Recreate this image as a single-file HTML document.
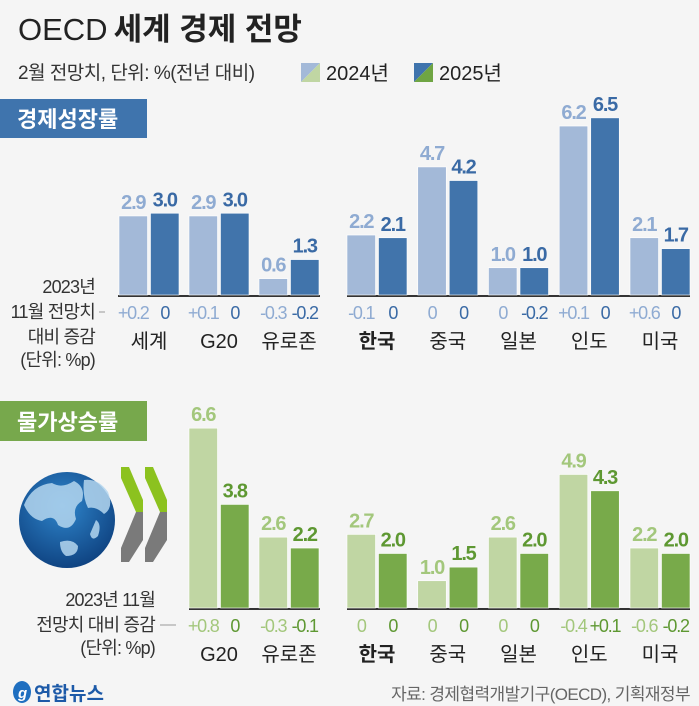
<!DOCTYPE html>
<html><head><meta charset="utf-8"><style>
html,body{margin:0;padding:0;background:#f5f5f5;}
svg{display:block;font-family:"Liberation Sans","Noto Sans CJK KR",sans-serif;}
</style></head><body>
<svg id="c" width="699" height="706" viewBox="0 0 699 706" xmlns="http://www.w3.org/2000/svg">
<rect width="699" height="706" fill="#f5f5f5"/>
<text x="18" y="40" font-size="31" fill="#222"><tspan font-weight="300" letter-spacing="0">OECD</tspan><tspan font-weight="bold" dx="6">세계 경제 전망</tspan></text>
<text x="18" y="79" font-size="19" fill="#333" letter-spacing="-0.5">2월 전망치, 단위: %(전년 대비)</text>
<g>
<polygon points="301,63 320,63 301,82" fill="#a3b9d8"/><polygon points="320,63 320,82 301,82" fill="#c0d6a3"/>
<text x="326" y="80" font-size="20" fill="#222">2024년</text></g>
<g>
<polygon points="414,63 433,63 414,82" fill="#3f74ad"/><polygon points="433,63 433,82 414,82" fill="#6fa543"/>
<text x="439" y="80" font-size="20" fill="#222">2025년</text></g>
<rect x="0" y="99" width="147" height="39" fill="#3f74ad"/>
<text x="17" y="127" font-size="22" font-weight="bold" fill="#fff">경제성장률</text>
<rect x="0" y="401" width="147" height="40" fill="#77a84c"/>
<text x="17" y="430" font-size="22" font-weight="bold" fill="#fff">물가상승률</text>
<g font-size="18" fill="#333" text-anchor="end" letter-spacing="-0.8">
<text x="95" y="293">2023년</text><text x="95" y="318">11월 전망치</text>
<text x="95" y="343">대비 증감</text><text x="95" y="366">(단위: %p)</text></g>
<line x1="99" y1="312" x2="105" y2="312" stroke="#999" stroke-width="1"/>
<g font-size="18" fill="#333" text-anchor="end" letter-spacing="-0.8">
<text x="155" y="606">2023년 11월</text><text x="155" y="631">전망치 대비 증감</text>
<text x="155" y="654">(단위: %p)</text></g>
<line x1="160" y1="625" x2="176" y2="625" stroke="#999" stroke-width="1"/>
<defs><radialGradient id="gl" cx="0.45" cy="0.35" r="0.7"><stop offset="0" stop-color="#2f86cc"/><stop offset="1" stop-color="#0d3f7d"/></radialGradient></defs>
<g>
<circle cx="67" cy="520" r="48" fill="url(#gl)"/>
<path d="M24,505 q8,-20 28,-22 q10,6 22,-2 q12,6 8,20 q-10,6 -6,18 q-6,14 -18,6 q-4,-12 -16,-4 q-12,-2 -18,-16z" fill="#b4d6ee" opacity="0.85"/>
<path d="M84,480 q14,-2 24,12 q6,16 -4,22 q-8,-8 -16,-6 q-6,-12 -4,-28z" fill="#b4d6ee" opacity="0.85"/>
<path d="M60,542 q12,-4 18,4 q0,10 -12,10 q-6,-4 -6,-14z" fill="#b4d6ee" opacity="0.85"/>
<path d="M96,520 q6,4 2,16 q-6,6 -8,-2z" fill="#b4d6ee" opacity="0.85"/>
</g>
<g>
<polygon points="121,467 129,467 143,500 143,512 136,512 121,478" fill="#8cc21f"/>
<polygon points="136,512 143,512 143,540 129,562 121,562 121,548" fill="#7a7a7a"/>
<polygon points="145,467 153,467 167,500 167,512 160,512 145,478" fill="#8cc21f"/>
<polygon points="160,512 167,512 167,540 153,562 145,562 145,548" fill="#7a7a7a"/>
</g>
<g>
<ellipse cx="22" cy="692" rx="9" ry="11" fill="#1f6fc0"/>
<text x="18" y="698" font-size="15" font-style="italic" font-weight="bold" fill="#fff">g</text>
<text x="34" y="700" font-size="19" font-weight="bold" fill="#1d5aa8">연합뉴스</text></g>
<text x="690" y="700" font-size="17" fill="#666" text-anchor="end" letter-spacing="-0.6">자료: 경제협력개발기구(OECD), 기획재정부</text>
<g id="growth"></g>
<g id="infl"></g>
</svg>
<script>
const growthCountries = ["세계","G20","유로존","한국","중국","일본","인도","미국"];
const growth2024 = [2.9,2.9,0.6,2.2,4.7,1.0,6.2,2.1];
const growth2025 = [3.0,3.0,1.3,2.1,4.2,1.0,6.5,1.7];
const growthChange2024 = ["+0.2","+0.1","-0.3","-0.1","0","0","+0.1","+0.6"];
const growthChange2025 = ["0","0","-0.2","0","0","-0.2","0","0"];
const inflCountries = ["G20","유로존","한국","중국","일본","인도","미국"];
const infl2024 = [6.6,2.6,2.7,1.0,2.6,4.9,2.2];
const infl2025 = [3.8,2.2,2.0,1.5,2.0,4.3,2.0];
const inflChange2024 = ["+0.8","-0.3","0","0","0","-0.4","-0.6"];
const inflChange2025 = ["0","-0.1","0","0","0","+0.1","-0.2"];

const NS="http://www.w3.org/2000/svg";
const SCALE=27.25;
function mk(p,tag,at,txt){const e=document.createElementNS(NS,tag);for(const k in at)e.setAttribute(k,at[k]);if(txt!==undefined)e.textContent=txt;p.appendChild(e);return e;}
function slotX(i){return i<3?119+i*70:347+(i-3)*70.75;}
function yPos(base,v){return base-v*SCALE;}

function draw(gid,names,a,b,ca,cb,slot0,base,cols,leftStart){
  const g=document.getElementById(gid);
  mk(g,"line",{x1:leftStart,x2:320,y1:base+1,y2:base+1,stroke:"#333","stroke-width":2,});
  mk(g,"line",{x1:347,x2:690,y1:base+1,y2:base+1,stroke:"#333","stroke-width":2,});
  names.forEach((n,i)=>{
    const x=slotX(i+slot0);
    const vals=[a[i],b[i]], chg=[ca[i],cb[i]];
    for(let k=0;k<2;k++){
      const bx=x+k*31.5, y=yPos(base,vals[k]);
      const r=mk(g,"rect",{x:bx,y:y,width:28.5,height:base-y,fill:cols[k],stroke:"#fff","stroke-width":0.6});
      
      
      const t=mk(g,"text",{x:bx+14.25,y:y-7,"text-anchor":"middle","font-size":20,"font-weight":"bold","letter-spacing":"-1.2",fill:cols[k+2]},vals[k].toFixed(1));
      
      
      const c=mk(g,"text",{x:bx+14.25,y:base+24,"text-anchor":"middle","font-size":18,"letter-spacing":"-1.2",fill:cols[k+2]},chg[k]);
      
      
    }
    const nm=mk(g,"text",{x:x+30,y:base+53,"text-anchor":"middle","font-size":20,fill:"#222","font-weight":n==="한국"?"bold":"normal"},n);
    
    
  });
}
draw("growth",growthCountries,growth2024,growth2025,growthChange2024,growthChange2025,0,295,["#a3b9d8","#4174ab","#8fabd2","#3a6aa5"],118);
draw("infl",inflCountries,infl2024,infl2025,inflChange2024,inflChange2025,1,608,["#c0d6a3","#78aa4a","#a3c77c","#5e9832"],189);
</script>
</body></html>
